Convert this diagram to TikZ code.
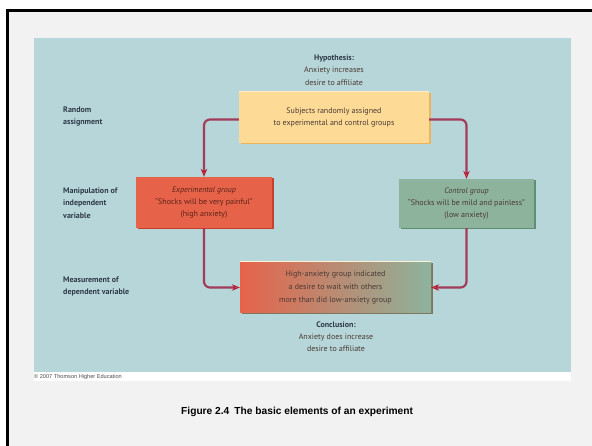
\documentclass[tikz,border=0pt]{standalone}
\usepackage{fontspec}
\setmainfont{PT Sans}
\newfontfamily\arialfont{Liberation Sans}
\usetikzlibrary{arrows.meta,shadows}
\definecolor{bggray}{HTML}{F2F2F2}
\definecolor{panel}{HTML}{B7D6D9}
\definecolor{yellowbox}{HTML}{FDDB97}
\definecolor{yellowedge}{HTML}{EDB35E}
\definecolor{expbox}{HTML}{E6634A}
\definecolor{expedge}{HTML}{C8402C}
\definecolor{ctrlbox}{HTML}{8DB39C}
\definecolor{ctrledge}{HTML}{5F8E72}
\definecolor{arrowcol}{HTML}{A23C58}
\definecolor{tipred}{HTML}{B81838}
\definecolor{tipyellow}{HTML}{F3B72E}
\definecolor{labelcol}{HTML}{2E3A48}
\definecolor{boxtext}{HTML}{4A3A34}
\definecolor{exptext}{HTML}{5A2218}
\begin{document}
\begin{tikzpicture}[x=1pt,y=-1pt,
  txt/.style={font=\fontsize{8}{12}\selectfont, text=boxtext, align=center, inner sep=0pt},
  lbl/.style={font=\fontsize{8}{12.5}\selectfont\bfseries, text=labelcol, align=left, anchor=west, inner sep=0pt},
  boxbase/.style={rectangle, inner sep=0pt, font=\fontsize{8}{12}\selectfont, align=center},
  ybox/.style={boxbase, fill=yellowbox, text=boxtext, minimum width=190pt, minimum height=51pt,
     drop shadow={shadow xshift=1.5pt, shadow yshift=-1.5pt, fill=yellowedge, opacity=1}},
  ebox/.style={boxbase, fill=expbox, text=exptext, minimum width=136pt, minimum height=51pt,
     drop shadow={shadow xshift=1.5pt, shadow yshift=-1.5pt, fill=expedge, opacity=1}},
  cbox/.style={boxbase, fill=ctrlbox, text=boxtext, minimum width=135pt, minimum height=49pt,
     drop shadow={shadow xshift=1.5pt, shadow yshift=-1.5pt, fill=ctrledge, opacity=1}},
  rbox/.style={boxbase, left color=expbox, right color=ctrlbox, text=boxtext, minimum width=191pt, minimum height=51pt,
     drop shadow={shadow xshift=1.5pt, shadow yshift=-1.5pt, fill=ctrledge!70!expedge, opacity=1}},
  arr/.style={draw=arrowcol, line width=2.2pt, rounded corners=6pt,
     -{Stealth[length=8pt, width=6.5pt, color=tipred, fill=tipyellow, line width=1pt]}}
]
\useasboundingbox (0,0) rectangle (592,446);
\fill[white] (0,0) rectangle (592,446);
\fill[bggray] (7.5,10.5) rectangle (592,446);
\draw[line width=2.6pt, black] (7.5,452) -- (7.5,10.5) -- (598,10.5);
\fill[panel] (34,38) rectangle (571,372);
\fill[white] (34,372) rectangle (571,381);

\node[anchor=west, inner sep=0pt, font=\arialfont\fontsize{5.6}{6}\selectfont, text=black!70] (copy) at (34,377) {© 2007 Thomson Higher Education};
\node[anchor=west, inner sep=0pt, font=\arialfont\bfseries\fontsize{10.2}{12}\selectfont] (cap) at (181,412) {Figure 2.4\enspace The basic elements of an experiment};

\node[txt, font=\fontsize{8}{12.5}\selectfont] (hyp) at (334,70) {\textbf{\color{labelcol}Hypothesis:}\\Anxiety increases\\desire to affiliate};

\node[ybox] (yellow) at (334,117.5) {Subjects randomly assigned\\to experimental and control groups};
\node[ebox] (exp) at (204,202.5) {\textit{Experimental group}\\``Shocks will be very painful''\\(high anxiety)};
\node[cbox] (ctrl) at (466.5,203.5) {\textit{Control group}\\``Shocks will be mild and painless''\\(low anxiety)};
\node[rbox, font=\fontsize{8}{13}\selectfont] (res) at (335.5,287.5) {High-anxiety group indicated\\a desire to wait with others\\more than did low-anxiety group};
\draw[white!60!yellowbox, line width=1.2pt] (res.north west) -- (res.north east);
\draw[white!50!yellowbox, line width=1pt] (yellow.north west) -- (yellow.north east);

\node[txt, font=\fontsize{8}{12}\selectfont] (conc) at (336,337) {\textbf{\color{labelcol}Conclusion:}\\Anxiety does increase\\desire to affiliate};

\node[lbl] (l1) at (63,116.5) {Random\\assignment};
\node[lbl] (l2) at (63,203) {Manipulation of\\independent\\variable};
\node[lbl] (l3) at (63,286.5) {Measurement of\\dependent variable};

\draw[arr] ([yshift=-2pt]yellow.west) -| (exp.north);
\draw[arr] ([yshift=-2pt]yellow.east) -| (ctrl.north);
\draw[arr] (exp.south) |- (res.west);
\draw[arr] (ctrl.south) |- (res.east);
\end{tikzpicture}
\end{document}
